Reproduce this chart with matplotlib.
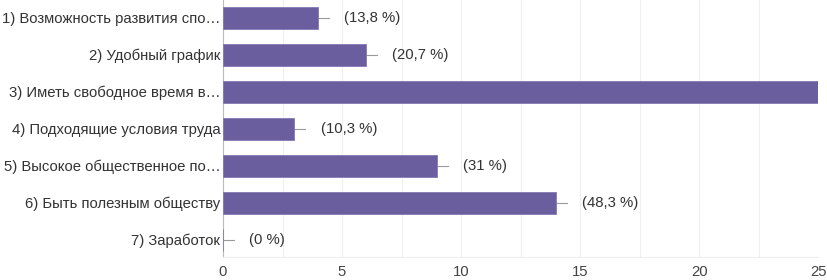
import matplotlib.pyplot as plt
from matplotlib.ticker import MultipleLocator

plt.rcParams['font.family'] = ['Liberation Sans', 'DejaVu Sans']

# answers (truncated like on the form) and counts
categories = [
    "1) Возможность развития спо…",
    "2) Удобный график",
    "3) Иметь свободное время в…",
    "4) Подходящие условия труда",
    "5) Высокое общественное по…",
    "6) Быть полезным обществу",
    "7) Заработок",
]
counts = [4, 6, 25, 3, 9, 14, 0]
pct_labels = ["(13,8 %)", "(20,7 %)", "(86,2 %)", "(10,3 %)", "(31 %)", "(48,3 %)", "(0 %)"]

fs = 10.7
fig = plt.figure(figsize=(8.27, 2.8), dpi=100)
ax = fig.add_axes([0.2697, 0.082, 0.7195, 0.918])

bar_color = "#6b5e9e"
ys = list(range(len(categories)))
ax.barh(ys, counts, height=0.6, color=bar_color, edgecolor="#8478b4", linewidth=0.6, zorder=3)

xmax = 25
# little whisker after each bar + percentage label (the one past the edge is hidden)
for y, c, lab in zip(ys, counts, pct_labels):
    if c + 0.45 > xmax:
        continue
    ax.plot([c, c + 0.45], [y, y], color="#999999", lw=0.8, zorder=2)
    ax.text(c + 1.1, y, lab, va="center", ha="left", fontsize=fs, color="#333333")

ax.set_xlim(0, xmax)
ax.set_ylim(6.47, -0.48)
ax.xaxis.set_major_locator(MultipleLocator(5))
ax.xaxis.set_minor_locator(MultipleLocator(2.5))
ax.grid(axis="x", which="both", color="#f0f0f0", lw=0.8, zorder=0)

ax.set_yticks(ys)
ax.set_yticklabels(categories, fontsize=fs, color="#333333")
ax.tick_params(axis="y", length=0, pad=2)
ax.tick_params(axis="x", which="both", length=0, pad=6, labelsize=fs, labelcolor="#444444")

for s in ["top", "right"]:
    ax.spines[s].set_visible(False)
ax.spines["left"].set_color("#bbbbbb")
ax.spines["bottom"].set_color("#eeeeee")

fig.savefig("out.png", dpi=100)
